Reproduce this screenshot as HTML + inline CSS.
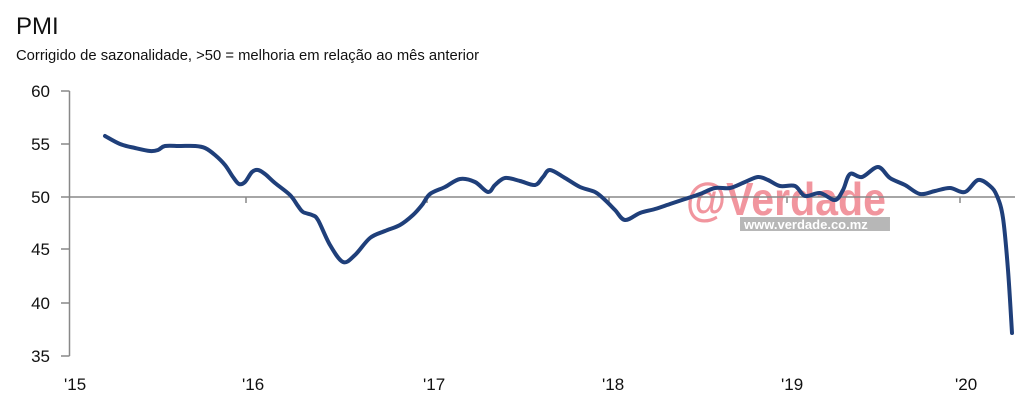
<!DOCTYPE html>
<html><head><meta charset="utf-8"><style>
body{margin:0;background:#fff;width:1024px;height:405px;overflow:hidden;font-family:"Liberation Sans",sans-serif}
</style></head><body>
<svg width="1024" height="405" viewBox="0 0 1024 405" style="position:absolute;left:0;top:0">
<text x="16" y="34" font-size="24" fill="#111">PMI</text>
<text x="16" y="60" font-size="14.8" fill="#111">Corrigido de sazonalidade, &gt;50 = melhoria em relação ao mês anterior</text>
<g opacity="0.6">
<text x="686" y="215" font-size="46" font-weight="bold" fill="#e8505f" textLength="200" lengthAdjust="spacingAndGlyphs">@Verdade</text>
<rect x="740" y="217" width="150" height="14" fill="#888"/>
<text x="744" y="229" font-size="13" font-weight="bold" fill="#fff">www.verdade.co.mz</text>
</g>
<g stroke="#888" stroke-width="1.5" fill="none">
<line x1="69.5" y1="91" x2="69.5" y2="356"/>
<line x1="61" y1="91" x2="69.5" y2="91"/><line x1="61" y1="144" x2="69.5" y2="144"/>
<line x1="61" y1="197" x2="69.5" y2="197"/><line x1="61" y1="249" x2="69.5" y2="249"/>
<line x1="61" y1="303" x2="69.5" y2="303"/><line x1="61" y1="356" x2="69.5" y2="356"/>
<line x1="69.5" y1="197" x2="1015" y2="197"/>
<line x1="246" y1="197" x2="246" y2="203"/><line x1="427" y1="197" x2="427" y2="203"/>
<line x1="609" y1="197" x2="609" y2="203"/><line x1="787" y1="197" x2="787" y2="203"/>
<line x1="960" y1="197" x2="960" y2="203"/>
</g>
<g font-size="17" fill="#111" text-anchor="end">
<text x="50" y="97">60</text><text x="50" y="150">55</text><text x="50" y="203">50</text>
<text x="50" y="255">45</text><text x="50" y="309">40</text><text x="50" y="362">35</text>
</g>
<g font-size="17" fill="#111">
<text x="64" y="390">'15</text><text x="242" y="390">'16</text><text x="423" y="390">'17</text>
<text x="602" y="390">'18</text><text x="781" y="390">'19</text><text x="955" y="390">'20</text>
</g>
<path id="ln" fill="none" stroke="#1f3f7a" stroke-width="4" stroke-linejoin="round" stroke-linecap="round" d=""/>
</svg>
<script>
var p=[[105,136],[120,144],[135,148],[150,151],[158,150],[165,146],[180,146],[195,146],[205,148],[215,155],[225,165],[233,177],[239,184],[245,182],[252,172],[258,170],[265,174],[275,183],[290,195],[298,206],[303,212],[312,215],[318,220],[330,245],[343,262],[355,255],[370,238],[385,231],[400,225],[413,215],[422,205],[430,194],[445,187],[460,179],[475,182],[488,192],[495,185],[505,178],[520,181],[535,185],[543,177],[550,170],[565,178],[580,187],[595,192],[605,200],[615,210],[625,220],[640,213],[655,209],[670,204],[685,199],[700,194],[715,188],[730,188],[745,182],[758,177],[768,180],[780,186],[795,186],[805,196],[820,193],[835,200],[843,190],[850,174],[862,177],[878,167],[890,178],[905,185],[920,194],[935,191],[950,188],[965,192],[978,180],[990,186],[997,196],[1003,218],[1008,270],[1012,333]];
var d="M"+p[0][0]+","+p[0][1];
for(var i=0;i<p.length-1;i++){var a=p[i-1]||p[i],b=p[i],c=p[i+1],e=p[i+2]||c;
d+=" C"+(b[0]+(c[0]-a[0])/6)+","+(b[1]+(c[1]-a[1])/6)+" "+(c[0]-(e[0]-b[0])/6)+","+(c[1]-(e[1]-b[1])/6)+" "+c[0]+","+c[1];}
document.getElementById("ln").setAttribute("d",d);
</script>
</body></html>
